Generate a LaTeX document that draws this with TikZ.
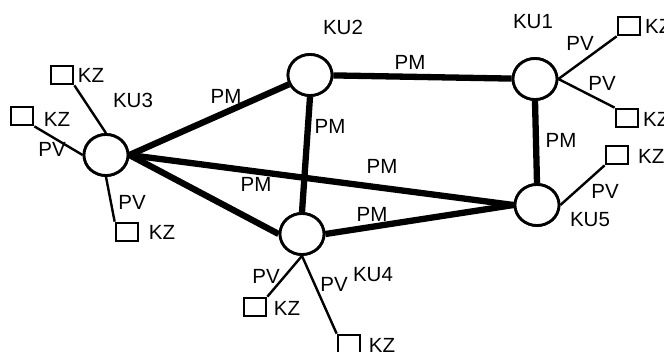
\documentclass[tikz,border=0pt]{standalone}
\usepackage{fontspec}
\setmainfont{Liberation Sans}
\usetikzlibrary{shapes.geometric}
\begin{document}
\begin{tikzpicture}[x=1pt,y=-1pt,
  unit/.style={ellipse,draw,line width=2.8pt,inner sep=0pt,minimum width=44pt,minimum height=41pt,fill=white},
  term/.style={rectangle,draw,line width=2.7pt,inner sep=0pt,minimum width=22pt,minimum height=18pt},
  trunk/.style={line width=6.3pt},
  spur/.style={line width=2.4pt},
  lbl/.style={inner sep=0pt,font=\fontsize{20.5}{20.5}\selectfont}]
\useasboundingbox (0,0) rectangle (664,351);
% switching units
\node[unit] (ku3) at (106,155) {};
\node[unit] (ku2) at (310,75) {};
\node[unit] (ku1) at (535,79) {};
\node[unit] (ku5) at (537,205) {};
\node[unit] (ku4) at (302,234) {};
% terminals
\node[term] (k3a) at (62,75) {};
\node[term] (k3b) at (22,116) {};
\node[term] (k3c) at (127,232) {};
\node[term] (k1a) at (629,26) {};
\node[term] (k1b) at (627,118) {};
\node[term] (k5a) at (617,155) {};
\node[term] (k4a) at (255,307) {};
\node[term] (k4b) at (349,344) {};
% trunk links
\draw[trunk] (ku3.east) -- (ku2);
\draw[trunk] (ku2) -- (ku1);
\draw[trunk] (ku2.south) -- (ku4.north);
\draw[trunk] (ku1.south) -- (ku5.north);
\draw[trunk] (ku3.east) -- (ku5.west);
\draw[trunk] (ku3.east) -- (ku4.west);
\draw[trunk] (ku4.east) -- (ku5.west);
% redraw units on top of the trunks
\node[unit] at (ku3) {};
\node[unit] at (ku2) {};
\node[unit] at (ku1) {};
\node[unit] at (ku5) {};
\node[unit] at (ku4) {};
% subscriber lines
\draw[spur] (k3a.south east) -- (ku3.north);
\draw[spur] (k3b.south east) -- (ku3.west);
\draw[spur] (k3c.north west) -- (ku3.south);
\draw[spur] (k1a.south west) -- (ku1.east);
\draw[spur] (k1b.north west) -- (ku1.east);
\draw[spur] (k5a.south west) -- (ku5.east);
\draw[spur] (k4a.north east) -- (ku4.south);
\draw[spur] (k4b.north west) -- (ku4.south);
% labels
\node[lbl] (t3) at (133,100) {KU3};
\node[lbl] (t2) at (343,27) {KU2};
\node[lbl] (t1) at (533,22) {KU1};
\node[lbl] (t5) at (590,220) {KU5};
\node[lbl] (t4) at (373,275) {KU4};
\node[lbl] (z3a) at (91,75) {KZ};
\node[lbl] (z3b) at (57,119) {KZ};
\node[lbl] (z3c) at (162,232) {KZ};
\node[lbl,anchor=west] (z1a) at (645,26) {KZ};
\node[lbl,anchor=west] (z1b) at (643,119) {KZ};
\node[lbl,anchor=west] (z5a) at (638,156) {KZ};
\node[lbl] (z4a) at (287,308) {KZ};
\node[lbl] (z4b) at (382,345) {KZ};
\node[lbl] (v3a) at (52,149) {PV};
\node[lbl] (v3b) at (132,202) {PV};
\node[lbl] (v1a) at (580,43) {PV};
\node[lbl] (v1b) at (602,83) {PV};
\node[lbl] (v5a) at (605,191) {PV};
\node[lbl] (v4a) at (266,276) {PV};
\node[lbl] (v4b) at (334,284) {PV};
\node[lbl] (m32) at (226,96) {PM};
\node[lbl] (m21) at (410,62) {PM};
\node[lbl] (m24) at (330,126) {PM};
\node[lbl] (m15) at (561,140) {PM};
\node[lbl] (m35) at (382,166) {PM};
\node[lbl] (m34) at (256,184) {PM};
\node[lbl] (m45) at (372,214) {PM};
\end{tikzpicture}
\end{document}
